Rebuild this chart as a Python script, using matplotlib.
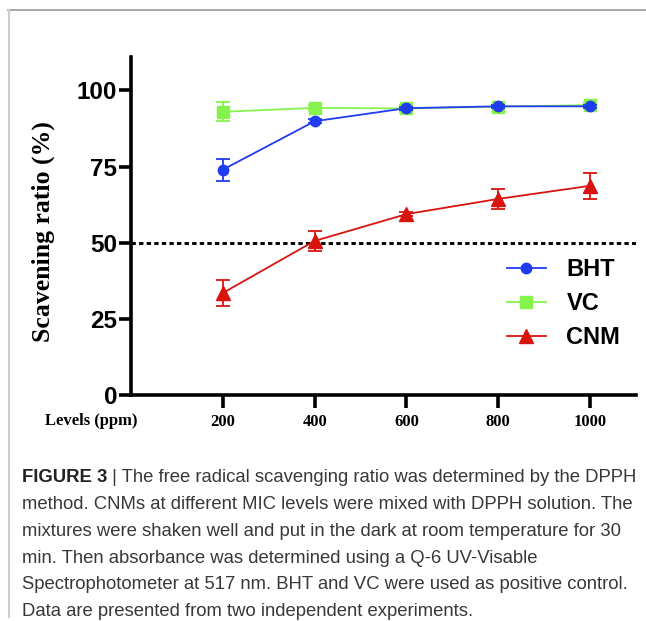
import matplotlib
matplotlib.use("Agg")
import matplotlib.pyplot as plt
from matplotlib.lines import Line2D

levels = [200, 400, 600, 800, 1000]
bht = [74.0, 89.9, 94.2, 94.8, 94.8]
bht_err = [3.6, 0.6, 0.5, 0.4, 0.4]
vc = [93.0, 94.3, 94.1, 94.7, 95.2]
vc_err = [3.1, 0.8, 1.2, 0.6, 0.6]
cnm = [33.5, 50.6, 59.4, 64.4, 68.7]
cnm_err = [4.3, 3.3, 0.6, 3.3, 4.3]
yticks = [0, 25, 50, 75, 100]

blue = "#1f3cf0"
green = "#86f24c"
red = "#d8140f"

W, H = 646, 621
fig = plt.figure(figsize=(W / 100, H / 100), dpi=100)

# frame lines of the figure panel
fig.add_artist(Line2D([8 / W, 1], [1 - 10 / H, 1 - 10 / H], color="#9a9a9a", lw=1.2))
fig.add_artist(Line2D([9 / W, 9 / W], [1 - 10 / H, 1 - 617 / H], color="#cfcfcf", lw=1.5))

ax = fig.add_axes([131 / W, 1 - 395 / H, (636 - 131) / W, (395 - 57) / H])

ax.axhline(50, color="black", lw=2.1, ls=(0, (1.5, 1.1)), zorder=1)

ax.errorbar(levels, vc, yerr=vc_err, color=green, marker="s", ms=9, lw=1.3,
            capsize=4.7, capthick=1.3, elinewidth=1.3, zorder=2)
ax.errorbar(levels, bht, yerr=bht_err, color=blue, marker="o", ms=7.5, lw=1.3,
            capsize=4.7, capthick=1.3, elinewidth=1.3, zorder=3)
ax.errorbar(levels, cnm, yerr=cnm_err, color=red, marker="^", ms=9.5, lw=1.3,
            capsize=4.7, capthick=1.3, elinewidth=1.3, zorder=3)

ax.set_xlim(0, 1100)
ax.set_ylim(0, 111)
ax.set_yticks(yticks)
ax.set_xticks(levels)
for s in ["top", "right"]:
    ax.spines[s].set_visible(False)
for s in ["left", "bottom"]:
    ax.spines[s].set_linewidth(2.6)
ax.tick_params(axis="both", width=2.6, length=9, color="black")
ax.tick_params(axis="y", pad=1)
ax.tick_params(axis="x", pad=5)
for lab in ax.get_yticklabels():
    lab.set_fontfamily("Liberation Sans")
    lab.set_fontweight("bold")
    lab.set_fontsize(17.5)
for lab in ax.get_xticklabels():
    lab.set_fontfamily("Liberation Serif")
    lab.set_fontweight("bold")
    lab.set_fontsize(12)

fig.text(43 / W, 1 - 232 / H, "Scavening ratio (%)", rotation=90, ha="center", va="center",
         fontfamily="Liberation Serif", fontweight="bold", fontsize=18.5)
fig.text(91 / W, 1 - 421 / H, "Levels (ppm)", ha="center", va="center",
         fontfamily="Liberation Serif", fontweight="bold", fontsize=12)

handles = [
    Line2D([], [], color=blue, marker="o", ms=7.5, lw=1.3),
    Line2D([], [], color=green, marker="s", ms=9, lw=1.3),
    Line2D([], [], color=red, marker="^", ms=9.5, lw=1.3),
]
ax.legend(handles, ["BHT", "VC", "CNM"], loc="upper left", bbox_to_anchor=(0.744, 0.405),
          frameon=False, prop={"family": "Liberation Sans", "weight": "bold", "size": 17},
          handlelength=1.65, handletextpad=0.88, labelspacing=0.47, borderpad=0,
          borderaxespad=0)

# caption
cap_lines = [
    "method. CNMs at different MIC levels were mixed with DPPH solution. The",
    "mixtures were shaken well and put in the dark at room temperature for 30",
    "min. Then absorbance was determined using a Q-6 UV-Visable",
    "Spectrophotometer at 517 nm. BHT and VC were used as positive control.",
    "Data are presented from two independent experiments.",
]
cap_font = dict(fontfamily="Liberation Sans", fontsize=13.35, color="#383838")
t0 = fig.text(22 / W, 1 - 478 / H, "FIGURE 3", fontweight="bold", va="center",
              fontfamily="Liberation Sans", fontsize=13.35, color="#222222")
fig.canvas.draw()
bb = t0.get_window_extent()
fig.text(bb.x1 / W, 1 - 478 / H, " | The free radical scavenging ratio was determined by the DPPH",
         va="center", **cap_font)
for i, line in enumerate(cap_lines):
    fig.text(22 / W, 1 - (478 + 26.7 * (i + 1)) / H, line, va="center", **cap_font)

fig.savefig("out.png", dpi=100)
